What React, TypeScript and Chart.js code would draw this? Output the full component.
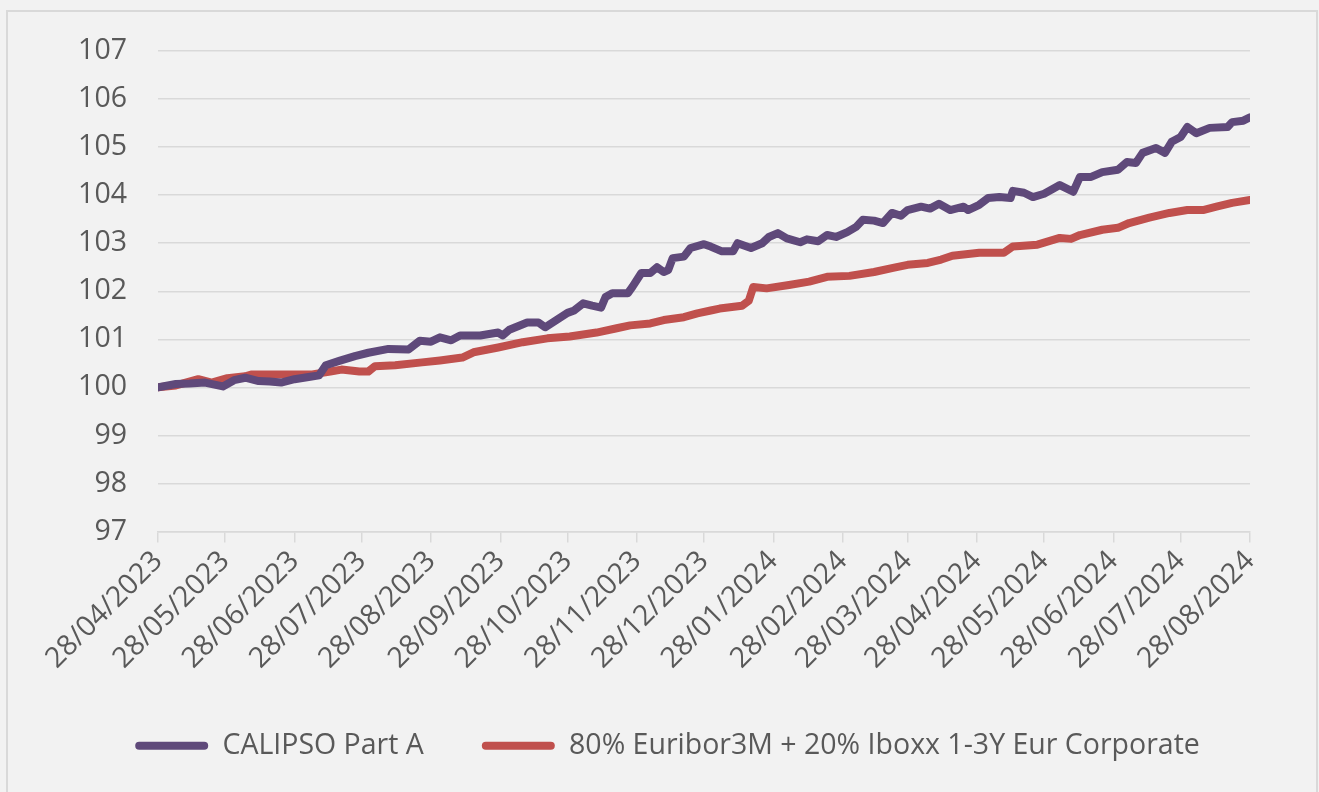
import React, { useEffect, useRef } from "react";
import { Chart, registerables } from "chart.js";

Chart.register(...registerables);

const tickLabels = [
  "28/04/2023", "28/05/2023", "28/06/2023", "28/07/2023", "28/08/2023",
  "28/09/2023", "28/10/2023", "28/11/2023", "28/12/2023", "28/01/2024",
  "28/02/2024", "28/03/2024", "28/04/2024", "28/05/2024", "28/06/2024",
  "28/07/2024", "28/08/2024",
];

const seriesNames = ["CALIPSO Part A", "80% Euribor3M + 20% Iboxx 1-3Y Eur Corporate"];

// days elapsed since 28/04/2023
const calipsoDays = [
  0, 8, 14, 21, 29, 34, 39, 45, 50, 55, 61, 68, 72, 75, 81, 88, 94, 103, 112, 117,
  122, 126, 131, 135, 144, 152, 154, 157, 165, 170, 173, 178, 183, 186, 190, 194, 198, 200, 203, 210,
  212, 216, 220, 223, 226, 228, 230, 235, 238, 244, 247, 252, 257, 259, 265, 270, 273, 277, 281, 287,
  290, 295, 299, 303, 308, 312, 315, 320, 324, 328, 332, 335, 341, 345, 349, 354, 360, 362, 367, 371,
  376, 381, 382, 387, 391, 396, 403, 409, 412, 417, 422, 429, 433, 437, 440, 446, 450, 453, 457, 460,
  464, 470, 478, 480, 485, 488,
];
const calipsoValues = [
  100.0, 100.07, 100.08, 100.1, 100.02, 100.15, 100.2, 100.13, 100.12, 100.1, 100.17, 100.22, 100.25, 100.46, 100.55, 100.65, 100.72, 100.8, 100.79, 100.97,
  100.95, 101.04, 100.98, 101.08, 101.08, 101.14, 101.08, 101.2, 101.35, 101.35, 101.25, 101.4, 101.55, 101.6, 101.75, 101.7, 101.66, 101.88, 101.96, 101.96,
  102.09, 102.38, 102.38, 102.5, 102.4, 102.44, 102.69, 102.72, 102.9, 102.98, 102.93, 102.83, 102.83, 103.0, 102.9, 103.0, 103.13, 103.21, 103.1, 103.02,
  103.08, 103.04, 103.17, 103.13, 103.23, 103.34, 103.49, 103.47, 103.42, 103.63, 103.57, 103.69, 103.76, 103.72, 103.82, 103.69, 103.76, 103.69, 103.8, 103.94,
  103.96, 103.94, 104.09, 104.05, 103.96, 104.03, 104.21, 104.07, 104.38, 104.38, 104.48, 104.53, 104.69, 104.67, 104.88, 104.98, 104.88, 105.11, 105.21, 105.42,
  105.29, 105.4, 105.42, 105.52, 105.55, 105.62,
];

const benchDays = [
  0, 8, 18, 24, 31, 39, 42, 69, 77, 82, 90, 94, 97, 106, 118, 126, 136, 141, 152, 163,
  174, 184, 196, 205, 211, 220, 226, 235, 241, 247, 251, 261, 264, 266, 272, 282, 291, 299, 309, 320,
  329, 335, 344, 350, 355, 367, 378, 382, 393, 403, 408, 412, 422, 429, 434, 443, 452, 460, 467, 473,
  480, 488,
];
const benchValues = [
  100.0, 100.04, 100.17, 100.1, 100.19, 100.23, 100.27, 100.27, 100.33, 100.37, 100.33, 100.33, 100.44, 100.46, 100.52, 100.56, 100.62, 100.73, 100.83, 100.94,
  101.02, 101.06, 101.14, 101.23, 101.29, 101.33, 101.4, 101.46, 101.54, 101.6, 101.64, 101.7, 101.8, 102.09, 102.06, 102.13, 102.2, 102.3, 102.32, 102.4,
  102.49, 102.55, 102.59, 102.66, 102.74, 102.8, 102.8, 102.93, 102.97, 103.11, 103.09, 103.17, 103.28, 103.32, 103.42, 103.53, 103.63, 103.69, 103.69, 103.76,
  103.84, 103.9,
];

const yMin = 97;
const yMax = 107;

const FONT = "'Open Sans', 'DejaVu Sans', sans-serif";
const FONT_SIZE = 28.5;
const TEXT = "#595959";
const GRID = "#D9D9D9";

function dayIndex(label: string): number {
  const [d, m, y] = label.split("/").map(Number);
  return Math.round((Date.UTC(y, m - 1, d) - Date.UTC(2023, 3, 28)) / 86400000);
}

export default function App() {
  const ref = useRef<HTMLCanvasElement | null>(null);

  useEffect(() => {
    if (!ref.current) return;
    const tickDays = tickLabels.map(dayIndex);
    const chart = new Chart(ref.current, {
      type: "line",
      data: {
        datasets: [
          {
            label: seriesNames[0],
            data: calipsoDays.map((d, i) => ({ x: d, y: calipsoValues[i] })),
            borderColor: "#5F497A",
            backgroundColor: "#5F497A",
            borderWidth: 8,
            pointRadius: 0,
            tension: 0,
            borderJoinStyle: "round",
            borderCapStyle: "round",
          },
          {
            label: seriesNames[1],
            data: benchDays.map((d, i) => ({ x: d, y: benchValues[i] })),
            borderColor: "#C0504D",
            backgroundColor: "#C0504D",
            borderWidth: 8,
            pointRadius: 0,
            tension: 0,
            borderJoinStyle: "round",
            borderCapStyle: "round",
          },
        ],
      },
      options: {
        responsive: false,
        animation: false,
        layout: { padding: { top: 51, left: 16, right: 0, bottom: 22 } },
        scales: {
          x: {
            type: "linear",
            min: tickDays[0],
            max: tickDays[tickDays.length - 1],
            afterBuildTicks: (s: any) => {
              s.ticks = tickDays.map((v) => ({ value: v }));
            },
            afterFit: (s: any) => {
              s.height = 142;
              s.paddingLeft = 0;
              s.paddingRight = 0;
            },
            ticks: {
              autoSkip: false,
              minRotation: 45,
              maxRotation: 45,
              padding: 2,
              color: TEXT,
              font: { family: FONT, size: FONT_SIZE },
              callback: (_v: any, i: number) => tickLabels[i],
            },
            grid: {
              drawOnChartArea: false,
              drawTicks: true,
              tickLength: 11,
              color: GRID,
              lineWidth: 1.5,
            },
            border: { color: GRID, width: 1.5 },
          },
          y: {
            min: yMin,
            max: yMax,
            afterFit: (s: any) => {
              s.width = 142;
            },
            ticks: {
              stepSize: 1,
              padding: 31,
              color: TEXT,
              font: { family: FONT, size: FONT_SIZE },
            },
            grid: { drawTicks: false, color: GRID, lineWidth: 1.5 },
            border: { display: false },
          },
          yRight: {
            position: "right",
            min: yMin,
            max: yMax,
            afterFit: (s: any) => {
              s.width = 69;
              s.paddingTop = 0;
              s.paddingBottom = 0;
            },
            ticks: { display: false },
            grid: { display: false, drawTicks: false },
            border: { display: false },
          },
        },
        plugins: {
          tooltip: { enabled: false },
          legend: {
            position: "bottom",
            labels: {
              boxWidth: 73,
              boxHeight: 8,
              useBorderRadius: true,
              borderRadius: 4,
              padding: 58,
              color: TEXT,
              font: { family: FONT, size: FONT_SIZE },
              generateLabels: (c: any) =>
                Chart.defaults.plugins.legend.labels
                  .generateLabels(c)
                  .map((l: any) => ({ ...l, lineWidth: 0, fillStyle: l.strokeStyle })),
            },
          },
        },
      },
    });
    return () => chart.destroy();
  }, []);

  return (
    <div style={{ position: "fixed", left: 0, top: 0, width: 1319, height: 792, background: "#F2F2F2", overflow: "hidden" }}>
      <div
        style={{
          position: "absolute",
          left: 6,
          top: 10,
          width: 1308,
          height: 800,
          borderTop: `2px solid ${GRID}`,
          borderLeft: `2px solid ${GRID}`,
          borderRight: `2px solid ${GRID}`,
        }}
      />
      <canvas ref={ref} width={1319} height={792} style={{ position: "absolute", left: 0, top: 0 }} />
    </div>
  );
}
